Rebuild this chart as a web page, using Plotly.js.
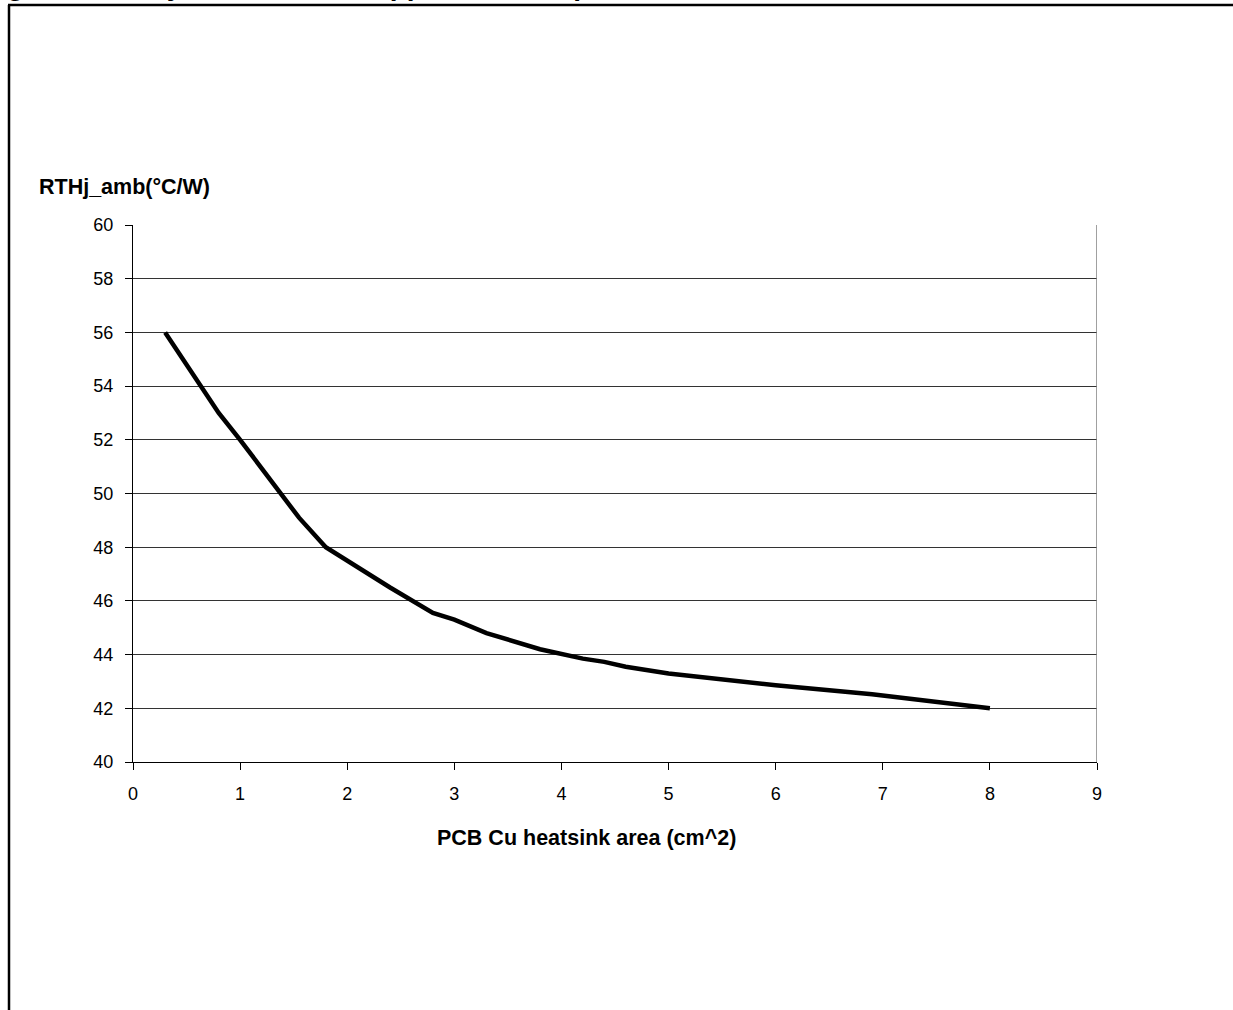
<!DOCTYPE html>
<html>
<head>
<meta charset="utf-8">
<script src="https://cdn.plot.ly/plotly-3.0.1.min.js"></script>
<style>
html,body{margin:0;padding:0;background:#fff;}
#chart{width:1233px;height:1010px;}
</style>
</head>
<body>
<div id="chart"></div>
<script>
// Data
const areaCm2 = [0.3, 0.8, 1.0, 1.55, 1.8, 2.0, 2.4, 2.8, 3.0, 3.3, 3.8, 4.2, 4.4, 4.6, 5.0, 6.0, 6.4, 6.9, 8.0];
const rthjAmb = [56, 53, 52, 49.1, 48, 47.5, 46.5, 45.55, 45.3, 44.8, 44.2, 43.85, 43.73, 43.55, 43.3, 42.86, 42.7, 42.52, 42.0];
const xTickVals = [0, 1, 2, 3, 4, 5, 6, 7, 8, 9];
const yTickVals = [40, 42, 44, 46, 48, 50, 52, 54, 56, 58, 60];
const figureTitle = "Figure 33. Rthj-amb vs PCB copper area in open box free air condition";
const yTitle = "RTHj_amb(°C/W)";
const xTitle = "PCB Cu heatsink area (cm^2)";

const W = 1233, H = 1010;
const L = 133, R = 1097, T = 225, B = 762;
const px = v => (v - L) / (R - L);
const py = v => (B - v) / (B - T);

const trace = {
  x: areaCm2, y: rthjAmb, type: 'scatter', mode: 'lines',
  line: {color: '#000', width: 4.5, shape: 'linear'},
  hoverinfo: 'skip', showlegend: false
};

const layout = {
  width: W, height: H,
  margin: {l: L, r: W - R, t: T, b: H - B, pad: 0},
  paper_bgcolor: '#fff', plot_bgcolor: '#fff',
  font: {family: 'Liberation Sans, Arial, sans-serif', color: '#000', size: 18},
  showlegend: false,
  xaxis: {
    range: [0, 9], tickvals: xTickVals, ticktext: xTickVals.map(String),
    showgrid: false, zeroline: false,
    showline: true, linecolor: '#000', linewidth: 1,
    ticks: 'outside', ticklen: 7, tickcolor: '#000', tickwidth: 1,
    ticklabelstandoff: 8,
    tickfont: {size: 18}, fixedrange: true
  },
  yaxis: {
    range: [40, 60], tickvals: yTickVals, ticktext: yTickVals.map(String),
    showgrid: true, gridcolor: '#333333', gridwidth: 1,
    zeroline: false,
    showline: true, linecolor: '#000', linewidth: 1,
    ticks: 'outside', ticklen: 7, tickcolor: '#000', tickwidth: 1,
    ticklabelstandoff: 8,
    tickfont: {size: 18}, fixedrange: true
  },
  shapes: [
    {type: 'line', xref: 'x', yref: 'y', x0: 9, x1: 9, y0: 40, y1: 60, line: {color: '#808080', width: 1.5}},
    {type: 'line', xref: 'paper', yref: 'paper', x0: px(9), x1: px(9), y0: py(5), y1: py(H + 20), line: {color: '#000', width: 2.5}},
    {type: 'line', xref: 'paper', yref: 'paper', x0: px(8), x1: px(W + 20), y0: py(5), y1: py(5), line: {color: '#000', width: 2.5}}
  ],
  annotations: [
    {xref: 'paper', yref: 'paper', x: px(-20), y: py(3), xanchor: 'left', yanchor: 'bottom',
     text: '<b>' + figureTitle + '</b>', showarrow: false, font: {size: 28}},
    {xref: 'paper', yref: 'paper', x: px(37), y: py(187), xanchor: 'left', yanchor: 'middle',
     text: '<b>' + yTitle + '</b>', showarrow: false, font: {size: 21.5}},
    {xref: 'paper', yref: 'paper', x: px(586), y: py(838), xanchor: 'center', yanchor: 'middle',
     text: '<b>' + xTitle + '</b>', showarrow: false, font: {size: 21.5}}
  ]
};

Plotly.newPlot('chart', [trace], layout, {displayModeBar: false, staticPlot: true});
</script>
</body>
</html>
